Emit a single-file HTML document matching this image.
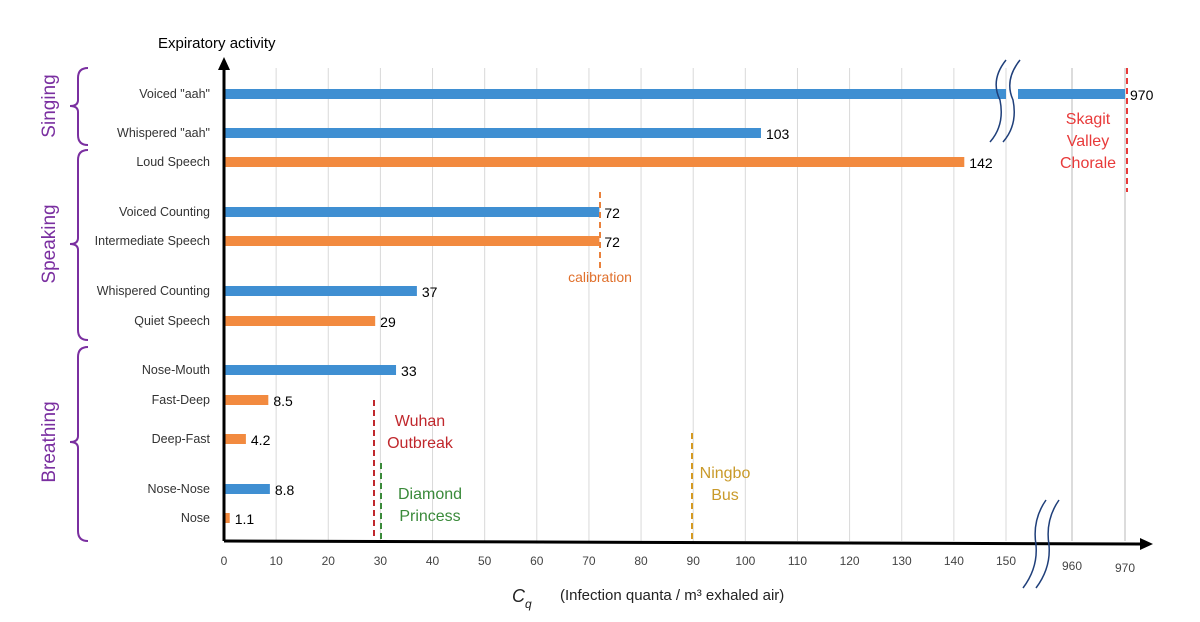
<!DOCTYPE html>
<html><head><meta charset="utf-8"><style>
body{margin:0;background:#fff;font-family:"Liberation Sans",sans-serif}
svg text{font-family:"Liberation Sans",sans-serif}
</style></head><body>
<svg width="1200" height="617" viewBox="0 0 1200 617">
<g id="grid"></g><g id="bars"></g><g id="labels"></g>
<text x="158" y="48" font-size="15" fill="#000">Expiratory activity</text>
<line x1="224" y1="541" x2="1140" y2="544" stroke="#000" stroke-width="3"/>
<polygon points="1140,538 1153,544 1140,550" fill="#000"/>
<line x1="224" y1="541" x2="224" y2="68" stroke="#000" stroke-width="3"/>
<polygon points="218,70 224,57 230,70" fill="#000"/>
<g fill="none" stroke="#1f3f7a" stroke-width="1.5">
<path d="M1006,60 Q990,80 1000,100 Q1005,125 990,142"/><path d="M1020,60 Q1004,80 1013,100 Q1018,125 1003,142"/></g>
<g fill="none" stroke="#1f3f7a" stroke-width="1.5">
<path d="M1046,500 Q1032,520 1036,545 Q1038,568 1023,588"/><path d="M1059,500 Q1045,520 1049,545 Q1051,568 1036,588"/></g>
<text x="1072" y="570" font-size="12" fill="#444" text-anchor="middle">960</text>
<text x="1125" y="572" font-size="12" fill="#444" text-anchor="middle">970</text>
<text x="512" y="602" font-size="18" font-style="italic" fill="#222">C<tspan font-size="12" dy="6">q</tspan></text>
<text x="560" y="600" font-size="15" fill="#222">(Infection quanta / m³  exhaled air)</text>
<g stroke-dasharray="6,4" stroke-width="2" fill="none">
<line x1="600" y1="192" x2="600" y2="268" stroke="#e9813c"/>
<line x1="374" y1="400" x2="374" y2="540" stroke="#c0282d"/>
<line x1="381" y1="463" x2="381" y2="540" stroke="#3a8a3a"/>
<line x1="692" y1="433" x2="692" y2="540" stroke="#d49a22"/>
<line x1="1127" y1="68" x2="1127" y2="192" stroke="#e83a3a"/>
</g>
<text x="600" y="282" font-size="14" fill="#e0702c" text-anchor="middle">calibration</text>
<text x="420" y="426" font-size="16" fill="#c0282d" text-anchor="middle"><tspan x="420">Wuhan</tspan><tspan x="420" dy="22">Outbreak</tspan></text>
<text x="430" y="499" font-size="16" fill="#3a8a3a" text-anchor="middle"><tspan x="430">Diamond</tspan><tspan x="430" dy="22">Princess</tspan></text>
<text x="725" y="478" font-size="16" fill="#c99a2a" text-anchor="middle"><tspan x="725">Ningbo</tspan><tspan x="725" dy="22">Bus</tspan></text>
<text x="1088" y="124" font-size="16" fill="#e83a3a" text-anchor="middle"><tspan x="1088">Skagit</tspan><tspan x="1088" dy="22">Valley</tspan><tspan x="1088" dy="22">Chorale</tspan></text>
<g fill="none" stroke="#7a2fa0" stroke-width="2">
<path d="M88,68 Q78,68 78,78 L78,100 Q78,106 70,106 Q78,106 78,112 L78,135 Q78,145 88,145"/>
<path d="M88,150 Q78,150 78,160 L78,238 Q78,244 70,244 Q78,244 78,250 L78,330 Q78,340 88,340"/>
<path d="M88,347 Q78,347 78,357 L78,436 Q78,442 70,442 Q78,442 78,448 L78,531 Q78,541 88,541"/>
</g>
<text transform="translate(55,106) rotate(-90)" font-size="19" fill="#7a2fa0" text-anchor="middle">Singing</text>
<text transform="translate(55,244) rotate(-90)" font-size="19" fill="#7a2fa0" text-anchor="middle">Speaking</text>
<text transform="translate(55,442) rotate(-90)" font-size="19" fill="#7a2fa0" text-anchor="middle">Breathing</text>
</svg>
<script>
const categories=['Voiced "aah"','Whispered "aah"','Loud Speech','Voiced Counting','Intermediate Speech','Whispered Counting','Quiet Speech','Nose-Mouth','Fast-Deep','Deep-Fast','Nose-Nose','Nose'];
const values=[970,103,142,72,72,37,29,33,8.5,4.2,8.8,1.1];
const valueLabels=['970','103','142','72','72','37','29','33','8.5','4.2','8.8','1.1'];
const seriesType=['b','b','o','b','o','b','o','b','o','o','b','o'];
const rowY=[94,133,162,212,241,291,321,370,400,439,489,518];
const ticks=[0,10,20,30,40,50,60,70,80,90,100,110,120,130,140,150];
const ns='http://www.w3.org/2000/svg';
function x(v){return v<=150?224+v*(1006-224)/150:1072+(v-960)*5.3;}
const grid=document.getElementById('grid'),bars=document.getElementById('bars'),labels=document.getElementById('labels');
function mk(t,a,p){const e=document.createElementNS(ns,t);for(const k in a)e.setAttribute(k,a[k]);p.appendChild(e);return e;}
ticks.forEach(t=>{
 if(t>0){const l=mk('line',{x1:x(t),x2:x(t),y1:68,y2:541,stroke:'#d9d9d9','stroke-width':1},grid);
 
 }
 const tx=mk('text',{x:x(t),y:565,'font-size':12,fill:'#444','text-anchor':'middle'},labels);tx.textContent=t;
 
 
});
[960,970].forEach(t=>{const l=mk('line',{x1:x(t),x2:x(t),y1:68,y2:541,stroke:'#d0d0d0','stroke-width':1.5},grid);
 
 });
categories.forEach((c,i)=>{
 const y=rowY[i],v=values[i],col=seriesType[i]=='b'?'#3f8fd2':'#f28a3f';
 if(v>150){
  const r1=mk('rect',{x:224,y:y-5,width:x(150)-224,height:10,fill:col},bars);
  
  
  const r2=mk('rect',{x:1018,y:y-5,width:x(v)-1018,height:10,fill:col},bars);
  
  
 } else {
  const r=mk('rect',{x:224,y:y-5,width:x(v)-224,height:10,fill:col},bars);
  
  
 }
 const vl=mk('text',{x:x(v)+5,y:y+6,'font-size':14,fill:'#000'},labels);vl.textContent=valueLabels[i];
 
 
 const cl=mk('text',{x:210,y:y+4,'font-size':12.5,fill:'#333','text-anchor':'end'},labels);cl.textContent=c;
 
 
});
</script>
</body></html>
